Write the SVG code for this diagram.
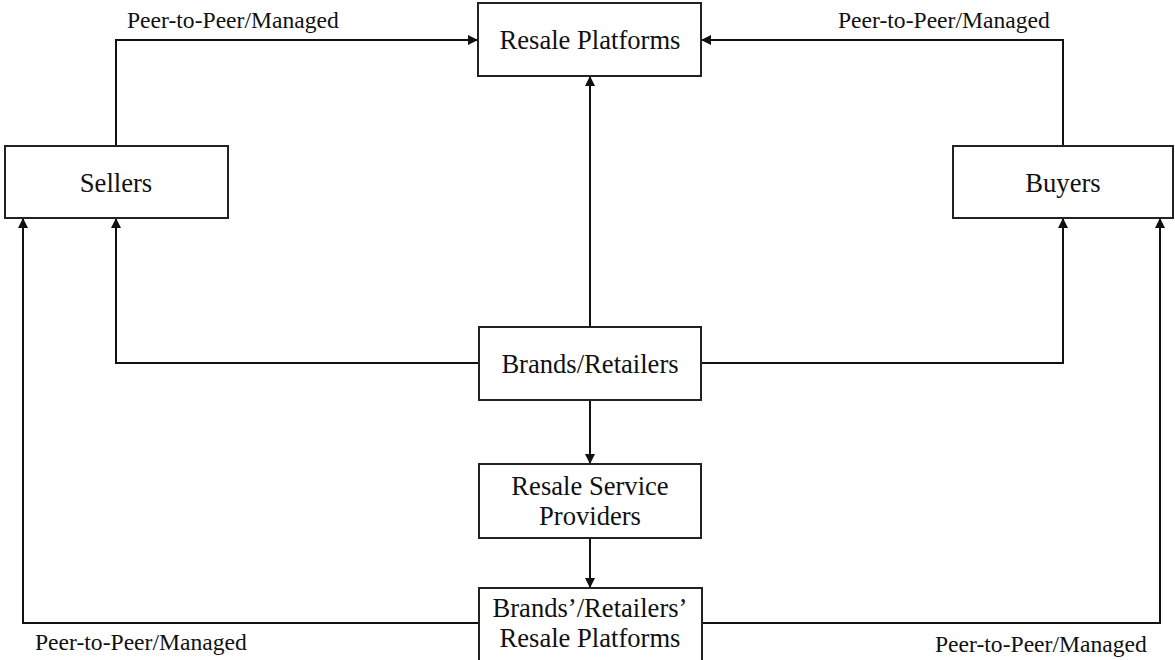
<svg xmlns="http://www.w3.org/2000/svg" width="1175" height="660" viewBox="0 0 1175 660">
<style>
.box{fill:#fff;stroke:#222;stroke-width:2}
.t{font-family:"Liberation Serif","Times New Roman",serif;font-size:26.6px;fill:#111;text-anchor:middle}
.lbl{font-family:"Liberation Serif","Times New Roman",serif;font-size:23.6px;fill:#111}
.c{fill:none;stroke:#111;stroke-width:2;marker-end:url(#ah)}
</style>
<defs>
<marker id="ah" viewBox="0 0 10 10" refX="10" refY="5" markerWidth="5" markerHeight="5" orient="auto" markerUnits="strokeWidth">
<path d="M0,0 L10,5 L0,10 z" fill="#111"/>
</marker>
</defs>
<rect width="1175" height="660" fill="#fff"/>
<g id="connectors">
<path class="c" d="M116,146 V40 H478"/>
<path class="c" d="M1063,146 V40 H701"/>
<path class="c" d="M590,327 V76"/>
<path class="c" d="M479,363 H116 V218"/>
<path class="c" d="M701,363 H1063 V218"/>
<path class="c" d="M590,400 V464"/>
<path class="c" d="M590,538 V588"/>
<path class="c" d="M479,623 H23 V218"/>
<path class="c" d="M702,623 H1160 V218"/>
</g>
<g id="labels">
<text class="lbl" x="127" y="28">Peer-to-Peer/Managed</text>
<text class="lbl" x="838" y="28">Peer-to-Peer/Managed</text>
<text class="lbl" x="35" y="650">Peer-to-Peer/Managed</text>
<text class="lbl" x="935" y="652">Peer-to-Peer/Managed</text>
</g>
<g id="resale-platforms"><rect class="box" x="478" y="3" width="223" height="73"/><text class="t" x="590" y="49">Resale Platforms</text></g>
<g id="sellers"><rect class="box" x="5" y="146" width="223" height="72"/><text class="t" x="116" y="192">Sellers</text></g>
<g id="buyers"><rect class="box" x="953" y="146" width="220" height="72"/><text class="t" x="1063" y="192">Buyers</text></g>
<g id="brands-retailers"><rect class="box" x="479" y="327" width="222" height="73"/><text class="t" x="590" y="373">Brands/Retailers</text></g>
<g id="resale-service-providers"><rect class="box" x="479" y="464" width="222" height="74"/><text class="t" x="590" y="495">Resale Service</text><text class="t" x="590" y="525">Providers</text></g>
<g id="brands-retailers-resale-platforms"><rect class="box" x="479" y="588" width="223" height="80"/><text class="t" x="590" y="617">Brands’/Retailers’</text><text class="t" x="590" y="647">Resale Platforms</text></g>
</svg>
